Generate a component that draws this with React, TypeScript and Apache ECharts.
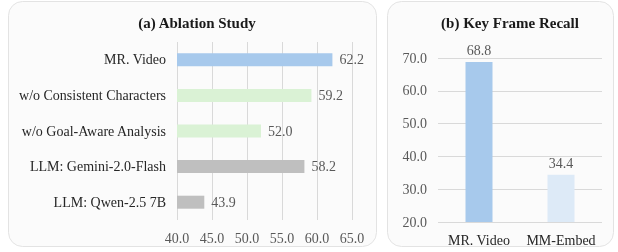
import React, { useEffect, useRef } from "react";
import * as echarts from "echarts";

const ablationCategories = [
  "MR. Video",
  "w/o Consistent Characters",
  "w/o Goal-Aware Analysis",
  "LLM: Gemini-2.0-Flash",
  "LLM: Qwen-2.5 7B",
];
const ablationValues = [62.2, 59.2, 52.0, 58.2, 43.9];
const ablationColors = ["#a7c9ec", "#daf2d5", "#daf2d5", "#bfbfbf", "#bfbfbf"];

const recallCategories = ["MR. Video", "MM-Embed"];
const recallValues = [68.8, 34.4];
const recallColors = ["#a7c9ec", "#ddeaf7"];

const FONT = "Liberation Serif";

export default function App() {
  const ref = useRef<HTMLDivElement>(null);
  useEffect(() => {
    if (!ref.current) return;
    const chart = echarts.init(ref.current, undefined, { renderer: "svg" });
    chart.setOption({
      animation: false,
      textStyle: { fontFamily: FONT },
      graphic: [
        {
          type: "rect",
          shape: { x: 8.5, y: 1.5, width: 368, height: 245, r: 14 },
          style: { fill: "#fbfbfb", stroke: "#e3e3e3", lineWidth: 1 },
          z: -10,
        },
        {
          type: "rect",
          shape: { x: 387.5, y: 1.5, width: 226, height: 245, r: 14 },
          style: { fill: "#fbfbfb", stroke: "#e3e3e3", lineWidth: 1 },
          z: -10,
        },
      ],
      title: [
        {
          text: "(a) Ablation Study",
          left: 192,
          top: 10,
          textAlign: "center",
          textStyle: { fontFamily: FONT, fontSize: 15, fontWeight: "bold", color: "#1a1a1a" },
        },
        {
          text: "(b) Key Frame Recall",
          left: 505,
          top: 10,
          textAlign: "center",
          textStyle: { fontFamily: FONT, fontSize: 15, fontWeight: "bold", color: "#1a1a1a" },
        },
      ],
      grid: [
        { left: 177, top: 42, width: 175, height: 178, containLabel: false },
        { left: 438, top: 58, width: 164, height: 164, containLabel: false },
      ],
      xAxis: [
        {
          gridIndex: 0,
          type: "value",
          min: 40,
          max: 65,
          interval: 5,
          axisLine: { show: false },
          axisTick: { show: false },
          splitLine: { show: true, lineStyle: { color: "#d9d9d9" } },
          axisLabel: {
            formatter: (v: number) => v.toFixed(1),
            color: "#595959",
            fontFamily: FONT,
            fontSize: 14,
            margin: 11,
          },
        },
        {
          gridIndex: 1,
          type: "category",
          data: recallCategories,
          axisLine: { show: false },
          axisTick: { show: false },
          axisLabel: { color: "#262626", fontFamily: FONT, fontSize: 14, margin: 11, interval: 0 },
        },
      ],
      yAxis: [
        {
          gridIndex: 0,
          type: "category",
          data: ablationCategories,
          inverse: true,
          axisLine: { show: false },
          axisTick: { show: false },
          axisLabel: { color: "#262626", fontFamily: FONT, fontSize: 14, margin: 11, interval: 0 },
        },
        {
          gridIndex: 1,
          type: "value",
          min: 20,
          max: 70,
          interval: 10,
          axisLine: { show: false },
          axisTick: { show: false },
          splitLine: { show: true, lineStyle: { color: "#d9d9d9" } },
          axisLabel: {
            formatter: (v: number) => v.toFixed(1),
            color: "#595959",
            fontFamily: FONT,
            fontSize: 14,
            margin: 11,
          },
        },
      ],
      series: [
        {
          type: "bar",
          xAxisIndex: 0,
          yAxisIndex: 0,
          barWidth: 13,
          data: ablationValues.map((v, i) => ({ value: v, itemStyle: { color: ablationColors[i] } })),
          label: {
            show: true,
            position: "right",
            distance: 7,
            formatter: (p: any) => Number(p.value).toFixed(1),
            color: "#595959",
            fontFamily: FONT,
            fontSize: 14,
          },
        },
        {
          type: "bar",
          xAxisIndex: 1,
          yAxisIndex: 1,
          barWidth: 27,
          data: recallValues.map((v, i) => ({ value: v, itemStyle: { color: recallColors[i] } })),
          label: {
            show: true,
            position: "top",
            distance: 4,
            formatter: (p: any) => Number(p.value).toFixed(1),
            color: "#595959",
            fontFamily: FONT,
            fontSize: 14,
          },
        },
      ],
    });
    return () => chart.dispose();
  }, []);
  return (
    <div
      ref={ref}
      style={{ position: "fixed", left: 0, top: 0, width: 618, height: 252 }}
    />
  );
}
